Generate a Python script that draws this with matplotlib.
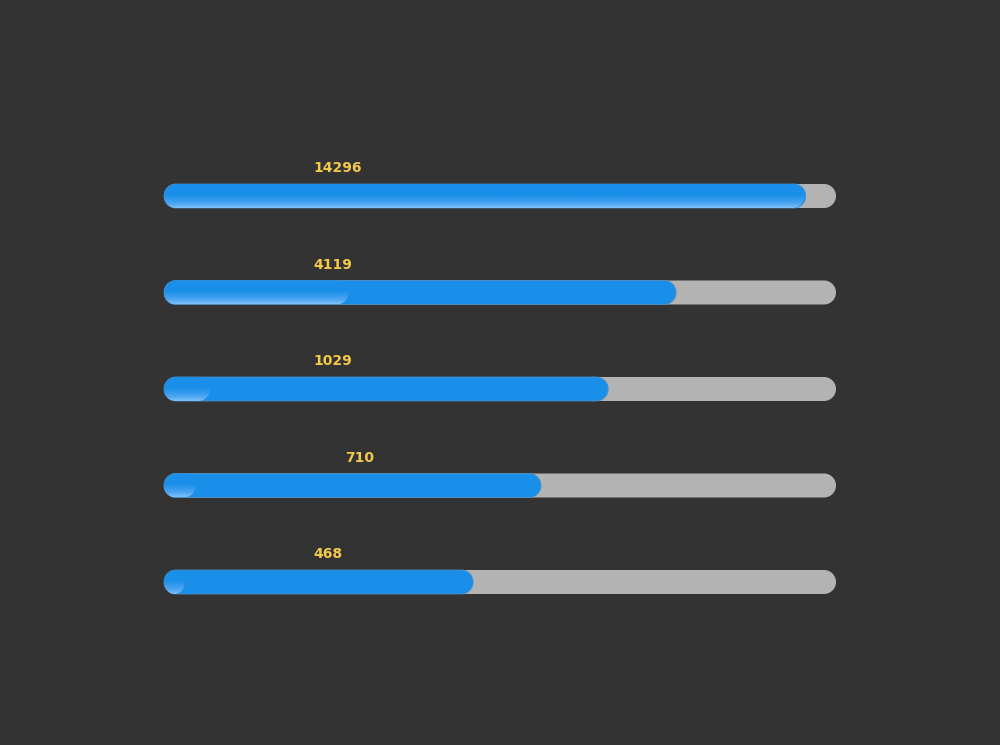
import matplotlib
matplotlib.use("Agg")
import matplotlib.pyplot as plt
import numpy as np
from matplotlib.patches import Polygon
from matplotlib.colors import LinearSegmentedColormap

# ---- data ----
values = [14296, 4119, 1029, 710, 468]          # value labels / inner bars
value_max = 15000                                # axis max for inner bars
progress_pct = [95.5, 76.2, 66.1, 56.1, 46.0]    # outer blue bars (percent of track)
track_pct = 100

# ---- style ----
bg = "#333333"
track_color = "#b3b3b3"
blue = "#1a8fea"
label_color = "#f3c94a"
label_dx = [0, 0, 0, 4.8, 0]   # small label shifts (percent units)

W, H = 1000, 745
fig = plt.figure(figsize=(W / 100, H / 100), dpi=100, facecolor=bg)
ax = fig.add_axes([0, 0, 1, 1], facecolor=bg)

px_x = 6.72    # pixels per percent
px_y = 96.5    # pixels per row
x0_px, y0_px = 164, 196
xlim = (-x0_px / px_x, (W - x0_px) / px_x)
ylim = ((H - y0_px) / px_y, -y0_px / px_y)
ax.set_xlim(*xlim)
ax.set_ylim(*ylim)
ax.axis("off")

bar_h = 24 / px_y
r = 12 / px_x

def pill(x, y, w, **kw):
    rx = min(r, w / 2)
    hh = bar_h / 2
    t = np.linspace(-np.pi / 2, np.pi / 2, 40)
    right = np.column_stack([x + w - rx + rx * np.cos(t), y + hh * np.sin(t)])
    left = np.column_stack([x + rx - rx * np.cos(t), y - hh * np.sin(t)])
    return Polygon(np.vstack([right, left]), closed=True, **kw)

cmap = LinearSegmentedColormap.from_list(
    "g", [(0, blue), (0.45, blue), (0.8, "#4aa3f0"), (1.0, "#7cc0f7")])
grad = np.linspace(0, 1, 64).reshape(-1, 1)

for i, (v, p) in enumerate(zip(values, progress_pct)):
    ax.add_patch(pill(0, i, track_pct, facecolor=track_color, edgecolor="none", zorder=1))
    outer = pill(0, i, p, facecolor=blue, edgecolor="#4f8fc4", linewidth=0.6, zorder=2)
    ax.add_patch(outer)
    w = v / value_max * track_pct
    clip = pill(0, i, w, facecolor="none", edgecolor="none", zorder=3)
    ax.add_patch(clip)
    im = ax.imshow(grad, cmap=cmap, aspect="auto", zorder=3,
                   extent=(0, w, i + bar_h / 2, i - bar_h / 2), interpolation="bilinear")
    im.set_clip_path(clip)
    ax.text(22.2 + label_dx[i], i - 0.285, str(v), color=label_color,
            fontsize=10, fontweight="bold", ha="left", va="center",
            family="DejaVu Sans", zorder=5)

ax.set_xlim(*xlim)
ax.set_ylim(*ylim)
fig.savefig("out.png", dpi=100, facecolor=bg)
